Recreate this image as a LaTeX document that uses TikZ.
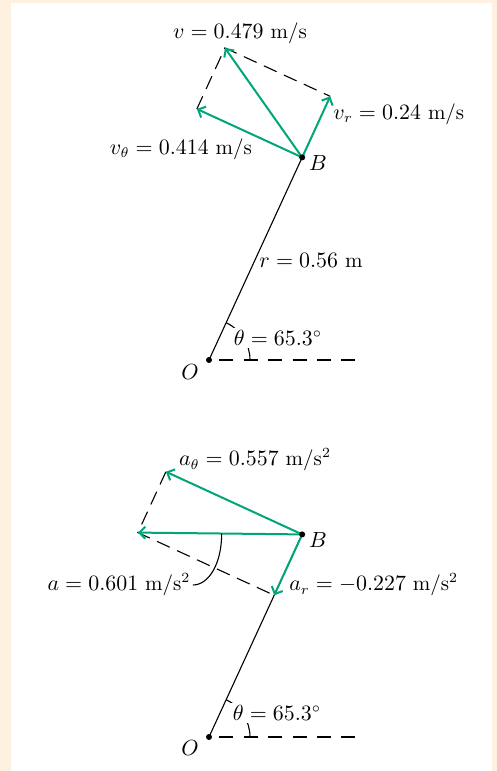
\documentclass[tikz,border=0pt]{standalone}
\usetikzlibrary{positioning,arrows.meta,calc}
\definecolor{vecgreen}{HTML}{00A57A}
\definecolor{paper}{HTML}{FEF1E0}
\begin{document}
\begin{tikzpicture}[x=0.5pt,y=0.5pt,font=\fontsize{10.5}{12}\selectfont,
  vec/.style={vecgreen,line width=1pt,-{Straight Barb[length=3pt,width=6pt]}},
  guide/.style={line width=0.55pt,dash pattern=on 7pt off 4pt},
  baseline/.style={line width=0.55pt,dash pattern=on 7pt off 5.2pt,dash phase=7pt},
  lab/.style={inner sep=1pt}]
\fill[paper] (0,0) rectangle (497,771); \fill[white] (11,0) rectangle (492,768);
\useasboundingbox (0,0) rectangle (497,771);
% velocity
\coordinate (O1) at (209,411); \coordinate (B1) at ($(O1)+(65.3:223)$); \coordinate (h1) at ($(O1)+(147,0)$);
\coordinate (vr) at ($(B1)+(65.3:67.2)$); \coordinate (vt) at ($(B1)+(155.3:115.9)$); \coordinate (v) at ($(vr)+(155.3:115.9)$);
\draw[line width=0.55pt] (O1)--(B1); \draw[baseline] (O1)--(h1);
\draw[guide] (vt)--(v)--(vr);
\draw[vec] (B1)--(vr); \draw[vec] (B1)--(vt); \draw[vec] (B1)--(v);
\draw[line width=0.55pt] ($(O1)+(41,0)$) arc[start angle=0,end angle=65.3,radius=41];
\node[lab,fill=white] (th1) at (278,433) {$\theta = 65.3^\circ$};
\fill (O1) circle[radius=3]; \fill (B1) circle[radius=3];
\node[lab] (vlab) at (240,738) {$v = 0.479$ m/s}; \node[lab,anchor=west] (vrlab) at (331,657) {$v_r = 0.24$ m/s};
\node[lab] (vtlab) at (181,622) {$v_\theta = 0.414$ m/s}; \node[lab] (Blab1) at (318,608) {$B$};
\node[lab] (rlab) at (311,511) {$r = 0.56$ m}; \node[lab] (Olab1) at (190,399) {$O$};
% acceleration
\coordinate (O2) at (209,34); \coordinate (B2) at ($(O2)+(65.3:223)$); \coordinate (h2) at ($(O2)+(147,0)$);
\coordinate (ar) at ($(B2)+(245.3:67)$); \coordinate (at) at ($(B2)+(155.3:150)$); \coordinate (a) at ($(at)+(245.3:67)$);
\coordinate (ameet) at ($(B2)!0.49!(a)$);
\draw[line width=0.55pt] (O2)--(B2); \draw[baseline] (O2)--(h2);
\draw[guide] (at)--(a)--(ar);
\draw[vec] (B2)--(ar); \draw[vec] (B2)--(at); \draw[vec] (B2)--(a);
\draw[line width=0.55pt] ($(O2)+(41,0)$) arc[start angle=0,end angle=65.3,radius=41];
\node[lab,fill=white] (th2) at (277,58) {$\theta = 65.3^\circ$};
\fill (O2) circle[radius=3]; \fill (B2) circle[radius=3];
\node[lab] (atlab) at (255,311) {$a_\theta = 0.557$ m/s$^2$}; \node[lab] (Blab2) at (318,231) {$B$};
\node[lab] (alab) at (119,186) {$a = 0.601$ m/s$^2$}; \node[lab,anchor=west] (arlab) at (287,186) {$a_r = -0.227$ m/s$^2$};
\node[lab] (Olab2) at (190,23) {$O$};
\draw[line width=0.55pt] (alab.east) .. controls +(16,0) and +(0,-30) .. (ameet);
\end{tikzpicture}
\end{document}
